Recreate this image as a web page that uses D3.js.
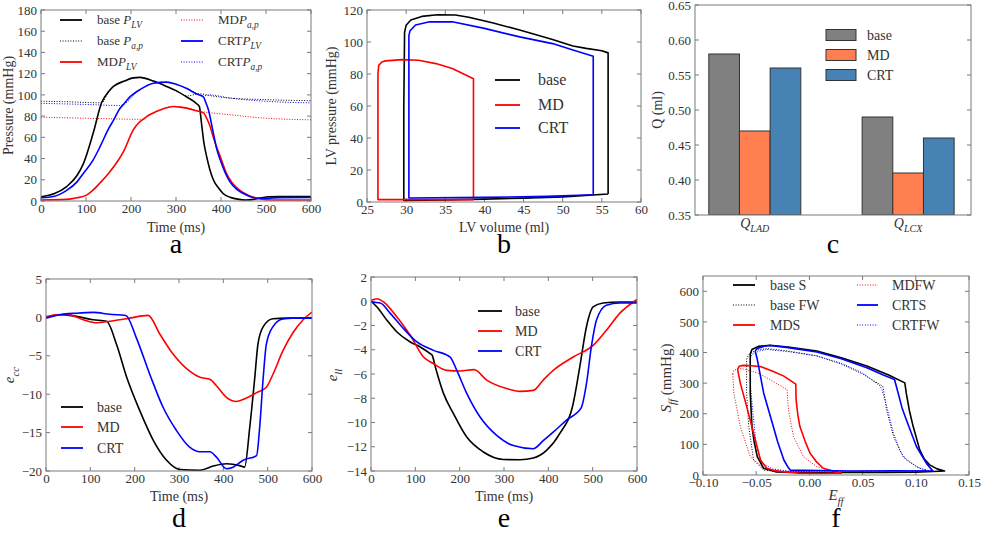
<!DOCTYPE html>
<html><head><meta charset="utf-8">
<script src="https://cdn.jsdelivr.net/npm/d3@7/dist/d3.min.js"></script>
<style>
html,body{margin:0;padding:0;background:#fff;}
svg{display:block;font-family:"Liberation Serif","DejaVu Serif",serif;}
svg text{font-family:"Liberation Serif","DejaVu Serif",serif;}
</style></head><body>
<svg id="chart" width="983" height="533"></svg>
<script>
// ---------- Panel a: pressure vs time ----------
const a_baseLV = [[0,4],[30,7],[57,13.5],[80,24],[94,35],[116,64],[135,93],[150,103],[161,108],[185,113],[205,116],[220,116.5],[250,113],[279,108],[300,104],[324,98],[345,92],[352,89],[357,72],[362,55],[368,42],[375,30],[383,20],[395,12],[405,7],[420,3.5],[440,1.5],[455,1],[472,1.5],[490,3],[505,4],[530,4.3],[600,4.3]];
const a_basePap = [[0,94],[60,93.5],[135,92.5],[150,103],[161,108],[185,113],[205,116],[220,116.5],[250,113],[279,108],[300,104],[324,99],[352,101],[380,99],[420,97],[500,95.5],[600,94.5]];
const a_mdLV = [[0,1],[57,1.5],[80,3],[101,5.5],[115,10],[131,17],[150,26],[168,36],[185,48],[205,67],[218,74],[227,77],[240,81],[257,84.5],[275,87.5],[294,89],[310,88.5],[324,87.5],[345,85],[361,83],[368,78],[376,70],[383,60],[390,51],[400,40],[412,26],[425,17],[442,10],[458,6],[472,3.5],[487,2],[501,1.2],[530,1],[600,1]];
const a_mdPap = [[0,79],[100,78],[227,77],[240,81],[257,84.5],[294,89],[324,87.5],[361,84],[380,83],[427,81],[470,79],[501,78],[550,77],[600,76.5]];
const a_crtLV = [[0,3],[30,4.5],[57,10],[80,18],[94,26],[115,38],[131,51],[150,68],[161,76],[175,87],[183,91],[200,99],[220,105],[250,111],[279,112],[300,110],[324,106],[345,101],[361,98],[366,93],[372,86],[383,64],[390,50],[398,39],[410,26],[420,18],[435,11],[450,7],[465,4],[479,2.8],[501,2.6],[530,3.2],[600,3.3]];
const a_crtPap = [[0,92],[100,91],[175,90],[183,91],[220,105],[250,111],[279,112],[324,106],[361,99],[375,100],[420,97],[500,94],[600,92.5]];
const a_xTicks = [0,100,200,300,400,500,600];
const a_yTicks = [0,20,40,60,80,100,120,140,160,180];

// ---------- Panel b: PV loops ----------
const b_base = [[55.8,5],[55.8,93.2],[55,94.5],[53,96],[51.3,97.5],[48.7,101.5],[44.5,107.5],[41,112],[38,115.5],[36.3,116.9],[34,117],[32,116],[30.6,113.7],[30,110.5],[29.8,106],[29.7,60],[29.7,1],[35,1.3],[40,1.8],[45,2.4],[50,3.2],[55.8,5]];
const b_md = [[38.6,1.5],[38.6,77],[35.9,83.4],[33.8,86.5],[31.6,88.6],[29.5,89],[27.35,88.2],[26.9,87.5],[26.5,85.4],[26.4,80],[26.4,1.5],[38.6,1.5]];
const b_crt = [[53.9,4.5],[53.9,91.1],[51,95.5],[48.7,99],[44.5,103.2],[40,108.5],[35.9,112.7],[33,112.6],[31.2,110.6],[30.5,107],[30.35,104],[30.35,2.5],[40,2.9],[48,3.5],[53.9,4.5]];
const b_xTicks = [25,30,35,40,45,50,55,60];
const b_yTicks = [0,20,40,60,80,100,120];

// ---------- Panel c: flow bars ----------
const c_groups = ["LAD","LCX"];
const c_series = ["base","MD","CRT"];
const c_base = [0.58,0.49];
const c_md = [0.47,0.41];
const c_crt = [0.56,0.46];
const c_yTicks = [0.35,0.40,0.45,0.50,0.55,0.60,0.65];

// ---------- Panel d: e_cc ----------
const d_base = [[0,0],[31.5,0.35],[61.6,0.2],[106.6,-0.3],[136.7,-0.5],[159,-3.5],[182,-7.8],[212,-12.2],[242,-16],[272,-18.6],[302,-19.8],[347,-19.9],[377,-19.35],[407,-19.05],[437,-19.3],[448,-19.5],[459.6,-14.3],[471,-7.8],[478,-3.5],[490,-1.2],[512,-0.17],[542,-0.1],[600,-0.1]];
const d_md = [[0,0.1],[24,0.35],[46.6,0.4],[84,-0.3],[114,-0.7],[144,-0.5],[182,-0.17],[230.5,0.26],[257,-2.2],[287,-4.8],[324,-7],[347,-7.8],[369.5,-8.06],[384.5,-8.9],[407,-10.4],[430,-10.95],[452,-10.5],[475,-9.8],[497,-9.1],[512,-7.4],[534,-4.4],[557,-2],[580,-0.3],[600,0.7]];
const d_crt = [[0,-0.1],[31.5,0.35],[69,0.55],[106.6,0.65],[144,0.4],[180,0.25],[204,-2.7],[234,-7.4],[264,-11.7],[294,-14.7],[324,-16.9],[347,-17.5],[369.5,-17.5],[384.5,-18.2],[407,-19.7],[422,-19.5],[444.7,-18.6],[475,-18],[482,-14.3],[490,-7.8],[497,-3.5],[512,-1.2],[534,-0.2],[557,-0.1],[600,-0.1]];
const d_yTicks = [-20,-15,-10,-5,0,5];
const d_xTicks = [0,100,200,300,400,500,600];

// ---------- Panel e: e_ll ----------
const e_base = [[0,0],[13.5,-0.47],[36,-1.57],[58.5,-2.54],[88.5,-3.36],[111,-3.77],[133.5,-4.32],[138,-4.45],[145,-5.4],[163.5,-7.6],[186,-9.27],[216,-11.2],[253.5,-12.43],[298.5,-13.05],[336,-13.07],[366,-12.93],[396,-12.3],[426,-10.9],[456,-8.45],[471,-5.4],[486,-2.1],[501,-0.47],[523.5,-0.14],[561,-0.06],[600,-0.06]];
const e_md = [[0,0.08],[13.5,0.21],[28.5,-0.06],[58.5,-1.3],[88.5,-2.8],[118.5,-4.6],[141,-5.15],[171,-5.7],[201,-5.75],[232.5,-5.64],[261,-6.5],[306,-7.2],[336,-7.43],[366,-7.35],[388.5,-6.5],[411,-5.7],[456,-4.6],[501,-3.64],[531,-2.4],[561,-1.0],[600,0.15]];
const e_crt = [[0,-0.06],[21,-0.14],[43.5,-1.0],[73.5,-2.26],[103.5,-3.36],[141,-4.05],[178.5,-4.6],[193.5,-5.7],[216,-7.6],[246,-9.55],[283.5,-11.06],[321,-11.9],[366,-12.16],[388.5,-11.5],[411,-10.8],[441,-9.8],[474,-8.8],[486,-6.8],[497,-3.77],[508.5,-1.57],[531,-0.33],[561,-0.14],[600,-0.14]];
const e_yTicks = [-14,-12,-10,-8,-6,-4,-2,0,2];

// ---------- Panel f: stress-strain loops ----------
const f_baseS = [[-0.0556,395],[-0.054,410],[-0.048,420],[-0.037,424],[-0.02,418],[0.007,405],[0.03,383],[0.054,356],[0.075,326],[0.0897,301],[0.091,268],[0.094,210],[0.0975,159],[0.1037,82],[0.108,52],[0.113,33],[0.12,20],[0.127,13],[0.1,9],[0.069,8],[0.007,8],[-0.031,10],[-0.043,22],[-0.049,60],[-0.052,110],[-0.054,159],[-0.0556,268],[-0.0556,395]];
const f_baseFW = [[-0.059,378],[-0.057,394],[-0.05,408],[-0.04,413],[-0.02,405],[0.007,389],[0.03,362],[0.05,330],[0.066,296],[0.069,290],[0.0705,260],[0.0725,213],[0.079,126],[0.088,60],[0.1006,27],[0.11,14],[0.08,9],[0.038,8],[-0.024,8],[-0.043,16],[-0.0525,49],[-0.057,159],[-0.059,268],[-0.059,378]];
const f_mdS = [[-0.0675,345],[-0.066,355],[-0.062,358],[-0.055,357],[-0.046,354],[-0.035,340],[-0.024,323],[-0.0128,297],[-0.0125,246],[-0.011,200],[-0.009,159],[-0.004,110],[0.0006,71],[0.007,42],[0.013,22],[0.0256,10],[0.03,6],[0.01,5],[-0.01,6],[-0.024,10],[-0.035,16],[-0.04,22],[-0.046,49],[-0.0525,137],[-0.059,224],[-0.065,301],[-0.0675,345]];
const f_mdFW = [[-0.072,330],[-0.071,342],[-0.067,347],[-0.063,347],[-0.049,334],[-0.035,308],[-0.024,285],[-0.021,279],[-0.0197,213],[-0.015,126],[-0.0056,60],[0.007,27],[0.019,16],[0.0,12],[-0.018,11],[-0.035,16],[-0.043,22],[-0.0556,60],[-0.065,159],[-0.071,268],[-0.072,330]];
const f_crtS = [[-0.051,405],[-0.049,413],[-0.042,421],[-0.037,423],[-0.02,416],[0.007,402],[0.03,380],[0.054,350],[0.07,326],[0.08,312],[0.0834,268],[0.087,220],[0.091,181],[0.1006,93],[0.11,38],[0.116,13],[0.08,13.5],[0.038,13],[-0.018,16],[-0.02,25],[-0.024,49],[-0.03,110],[-0.034,159],[-0.043,268],[-0.049,378],[-0.051,405]];
const f_crtFW = [[-0.0556,380],[-0.054,394],[-0.047,405],[-0.04,410],[-0.02,403],[0.007,389],[0.03,365],[0.05,333],[0.066,292],[0.068,280],[0.071,246],[0.079,137],[0.085,80],[0.091,49],[0.1037,22],[0.113,14],[0.08,12],[0.038,12],[-0.02,13],[-0.035,20],[-0.045,40],[-0.05,100],[-0.053,200],[-0.0556,300],[-0.0556,380]];
const f_xTicks = [-0.10,-0.05,0.00,0.05,0.10,0.15];
const f_yTicks = [0,100,200,300,400,500,600];

// ================= drawing =================
const svg = d3.select("#chart");
const FONT = "Liberation Serif";
const FRAME = "#7a7a7a", TXT = "#333";
const RED = "#ff0000", BLUE = "#0000ff", BLK = "#000000";
const DOT = "1,1.6";
const minus = s => String(s).replace("-", "\u2212");

function panel(o){
  const x = d3.scaleLinear().domain(o.xd).range([o.l, o.r]);
  const y = d3.scaleLinear().domain(o.yd).range([o.b, o.t]);
  const g = svg.append("g");
  const tick = 4;
  if (o.xt){
    const ax = d3.axisBottom(x).tickValues(o.xt).tickSize(0).tickPadding(3).tickFormat(o.xf || (d=>minus(d)));
    const gx = g.append("g").attr("transform",`translate(0,${o.b})`).call(ax).attr("font-family",FONT);
    gx.select(".domain").remove();
    gx.selectAll("text").attr("font-size",13).attr("fill",TXT).attr("font-family",FONT);
    o.xt.forEach(v=>{
      g.append("line").attr("x1",x(v)).attr("x2",x(v)).attr("y1",o.b).attr("y2",o.b-tick).attr("stroke",FRAME);
      g.append("line").attr("x1",x(v)).attr("x2",x(v)).attr("y1",o.t).attr("y2",o.t+tick).attr("stroke",FRAME);
    });
  }
  const ay = d3.axisLeft(y).tickValues(o.yt).tickSize(0).tickPadding(4).tickFormat(o.yf || (d=>minus(d)));
  const gy = g.append("g").attr("transform",`translate(${o.l},0)`).call(ay).attr("font-family",FONT);
  gy.select(".domain").remove();
  gy.selectAll("text").attr("font-size",13).attr("fill",TXT).attr("font-family",FONT);
  o.yt.forEach(v=>{
    g.append("line").attr("y1",y(v)).attr("y2",y(v)).attr("x1",o.l).attr("x2",o.l+tick).attr("stroke",FRAME);
    g.append("line").attr("y1",y(v)).attr("y2",y(v)).attr("x1",o.r).attr("x2",o.r-tick).attr("stroke",FRAME);
  });
  const clipId = "clip"+o.id;
  svg.append("clipPath").attr("id",clipId).append("rect").attr("x",o.l).attr("y",o.t).attr("width",o.r-o.l).attr("height",o.b-o.t);
  const plot = g.append("g").attr("clip-path",`url(#${clipId})`);
  return {x,y,g,plot,o};
}
function frame(p){
  const o=p.o;
  p.g.append("rect").attr("x",o.l).attr("y",o.t).attr("width",o.r-o.l).attr("height",o.b-o.t)
    .attr("fill","none").attr("stroke",FRAME).attr("stroke-width",1);
}
function line(p, data, color, dotted, curve){
  const gen = d3.line().x(d=>p.x(d[0])).y(d=>p.y(d[1])).curve(curve || d3.curveMonotoneX);
  p.plot.append("path").attr("d",gen(data)).attr("fill","none").attr("stroke",color)
    .attr("stroke-width",dotted?1:1.6).attr("stroke-dasharray",dotted?DOT:null)
    .attr("stroke-linejoin","round");
}
function rich(parent, x, y, parts, size, anchor, rotate){
  const t = parent.append("text").attr("x",x).attr("y",y).attr("font-size",size).attr("fill",TXT)
    .attr("font-family",FONT).attr("text-anchor",anchor||"start");
  if (rotate) t.attr("transform",`rotate(-90,${x},${y})`);
  let shifted = false;
  parts.forEach(([s,it,sub])=>{
    const ts = t.append("tspan").text(s);
    if (it) ts.attr("font-style","italic");
    if (sub && !shifted){ ts.attr("dy", size*0.3).attr("font-size", size*0.72); shifted=true; }
    else if (sub){ ts.attr("font-size", size*0.72); }
    else if (!sub && shifted){ ts.attr("dy", -size*0.3); shifted=false; }
  });
  return t;
}
function legLine(g, x1, x2, y, color, dotted){
  g.append("line").attr("x1",x1).attr("x2",x2).attr("y1",y).attr("y2",y).attr("stroke",color)
    .attr("stroke-width",dotted?1:1.8).attr("stroke-dasharray",dotted?DOT:null);
}
function letter(x,y,s){
  svg.append("text").attr("x",x).attr("y",y).attr("text-anchor","middle").attr("font-size",28)
    .attr("font-family",FONT).attr("fill","#000").text(s);
}

// ----- Panel a -----
{
  const p = panel({id:"a",l:41,r:311,t:10,b:201,xd:[0,600],yd:[0,180],xt:a_xTicks,yt:a_yTicks});
  line(p,a_basePap,BLK,true);
  line(p,a_mdPap,RED,true);
  line(p,a_crtPap,BLUE,true);
  line(p,a_baseLV,BLK,false);
  line(p,a_mdLV,RED,false);
  line(p,a_crtLV,BLUE,false);
  frame(p);
  const fs=13;
  legLine(p.g,60,82,20,BLK,false); rich(p.g,97,24,[["base ",0,0],["P",1,0],["LV",1,1]],fs);
  legLine(p.g,60,82,41,BLK,true);  rich(p.g,97,45,[["base ",0,0],["P",1,0],["a,p",1,1]],fs);
  legLine(p.g,60,82,62,RED,false); rich(p.g,97,66,[["MD",0,0],["P",1,0],["LV",1,1]],fs);
  legLine(p.g,181,203,20,RED,true); rich(p.g,218,24,[["MD",0,0],["P",1,0],["a,p",1,1]],fs);
  legLine(p.g,181,203,41,BLUE,false); rich(p.g,218,45,[["CRT",0,0],["P",1,0],["LV",1,1]],fs);
  legLine(p.g,181,203,62,BLUE,true); rich(p.g,218,66,[["CRT",0,0],["P",1,0],["a,p",1,1]],fs);
  rich(svg,176,232,[["Time (ms)",0,0]],14,"middle");
  rich(svg,13,105.5,[["Pressure (mmHg)",0,0]],14,"middle",true);
  letter(176,253,"a");
}
// ----- Panel b -----
{
  const p = panel({id:"b",l:367,r:641,t:10,b:202,xd:[25,60],yd:[0,120],xt:b_xTicks,yt:b_yTicks});
  line(p,b_base,BLK,false,d3.curveLinear);
  line(p,b_md,RED,false,d3.curveLinear);
  line(p,b_crt,BLUE,false,d3.curveLinear);
  frame(p);
  legLine(p.g,495,520,80,BLK,false); rich(p.g,538,85,[["base",0,0]],16);
  legLine(p.g,495,520,105,RED,false); rich(p.g,538,110,[["MD",0,0]],16);
  legLine(p.g,495,520,128,BLUE,false); rich(p.g,538,133,[["CRT",0,0]],16);
  rich(svg,504,232,[["LV volume (ml)",0,0]],14,"middle");
  rich(svg,336,106,[["LV pressure (mmHg)",0,0]],14,"middle",true);
  letter(504,253,"b");
}
// ----- Panel c -----
{
  const p = panel({id:"c",l:695,r:971,t:5,b:215,xd:[-0.09,1.71],yd:[0.35,0.65],xt:null,yt:c_yTicks,yf:d3.format(".2f")});
  const vals = [c_base,c_md,c_crt];
  const cols = ["#808080","#ff7f50","#4682b4"];
  const w = 0.2;
  vals.forEach((arr,k)=>{
    arr.forEach((v,i)=>{
      p.plot.append("rect").attr("x",p.x(i+k*w)).attr("width",p.x(w)-p.x(0))
        .attr("y",p.y(v)).attr("height",p.y(0.35)-p.y(v))
        .attr("fill",cols[k]).attr("stroke","#333").attr("stroke-width",1);
    });
  });
  frame(p);
  c_groups.forEach((gname,i)=>{
    const cx = p.x(i+1.5*w);
    rich(svg,cx,228,[["Q",1,0],[gname,1,1]],14,"middle");
  });
  c_series.forEach((s,k)=>{
    const cy = 35+k*20;
    p.g.append("rect").attr("x",826).attr("y",cy-5.5).attr("width",30).attr("height",11)
      .attr("fill",cols[k]).attr("stroke","#333");
    rich(p.g,867,cy+5,[[s,0,0]],14);
  });
  rich(svg,662,110,[["Q (ml)",0,0]],14,"middle",true);
  letter(833,253,"c");
}
// ----- Panel d -----
{
  const p = panel({id:"d",l:46,r:312,t:279,b:471,xd:[0,600],yd:[-20,5],xt:d_xTicks,yt:d_yTicks});
  line(p,d_base,BLK,false);
  line(p,d_md,RED,false);
  line(p,d_crt,BLUE,false);
  frame(p);
  legLine(p.g,61,83,407,BLK,false); rich(p.g,97,412,[["base",0,0]],14);
  legLine(p.g,61,83,427,RED,false); rich(p.g,97,432,[["MD",0,0]],14);
  legLine(p.g,61,83,448,BLUE,false); rich(p.g,97,453,[["CRT",0,0]],14);
  rich(svg,179,501,[["Time (ms)",0,0]],14,"middle");
  rich(svg,14,375,[["e",1,0],["cc",1,1]],15,"middle",true);
  letter(179,527,"d");
}
// ----- Panel e -----
{
  const p = panel({id:"e",l:371,r:637,t:277,b:471,xd:[0,600],yd:[-14,2],xt:d_xTicks,yt:e_yTicks});
  line(p,e_base,BLK,false);
  line(p,e_md,RED,false);
  line(p,e_crt,BLUE,false);
  frame(p);
  legLine(p.g,478,502,311,BLK,false); rich(p.g,515,316,[["base",0,0]],14);
  legLine(p.g,478,502,331,RED,false); rich(p.g,515,336,[["MD",0,0]],14);
  legLine(p.g,478,502,351,BLUE,false); rich(p.g,515,356,[["CRT",0,0]],14);
  rich(svg,504,501,[["Time (ms)",0,0]],14,"middle");
  rich(svg,337,375,[["e",1,0],["ll",1,1]],15,"middle",true);
  letter(504,527,"e");
}
// ----- Panel f -----
{
  const p = panel({id:"f",l:703,r:969,t:276,b:475,xd:[-0.10,0.15],yd:[0,650],xt:f_xTicks,yt:f_yTicks,xf:d=>minus(d3.format(".2f")(d))});
  const cr = d3.curveLinear;
  line(p,f_baseFW,BLK,true,cr);
  line(p,f_mdFW,RED,true,cr);
  line(p,f_crtFW,BLUE,true,cr);
  line(p,f_baseS,BLK,false,cr);
  line(p,f_mdS,RED,false,cr);
  line(p,f_crtS,BLUE,false,cr);
  frame(p);
  legLine(p.g,733,755,285,BLK,false); rich(p.g,770,290,[["base S",0,0]],14);
  legLine(p.g,733,755,305,BLK,true);  rich(p.g,770,310,[["base FW",0,0]],14);
  legLine(p.g,733,755,325,RED,false); rich(p.g,770,330,[["MDS",0,0]],14);
  legLine(p.g,857,878,285,RED,true); rich(p.g,892,290,[["MDFW",0,0]],14);
  legLine(p.g,857,878,305,BLUE,false); rich(p.g,892,310,[["CRTS",0,0]],14);
  legLine(p.g,857,878,325,BLUE,true); rich(p.g,892,330,[["CRTFW",0,0]],14);
  rich(svg,836,500,[["E",1,0],["ff",1,1]],15,"middle");
  rich(svg,671,378,[["S",1,0],["ff",1,1],["  (mmHg)",0,0]],15,"middle",true);
  letter(836,527,"f");
}
</script>
</body></html>
